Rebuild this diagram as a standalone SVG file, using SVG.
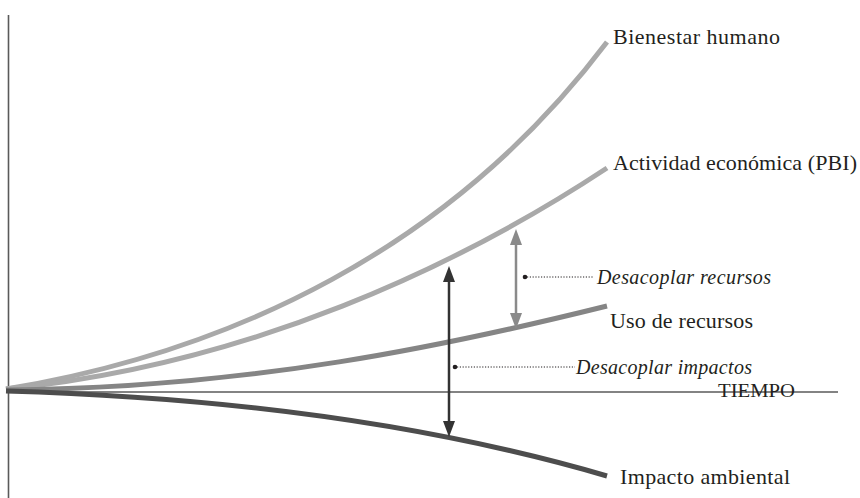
<svg xmlns="http://www.w3.org/2000/svg" width="860" height="498" viewBox="0 0 860 498">
<style>
.lbl{font-family:"Liberation Serif","Times New Roman",serif;font-size:22px;fill:#231f20}
.it{font-family:"Liberation Serif","Times New Roman",serif;font-size:20px;font-style:italic;fill:#231f20}
.ax{stroke:#5a5a5a;stroke-width:1.6;fill:none}
.curve{fill:none;stroke-width:5;stroke-linecap:butt}
.lead{stroke:#231f20;stroke-width:1;stroke-dasharray:1.2 1.6;fill:none}
</style>
<defs>
<marker id="ag" viewBox="0 0 16 12" refX="4" refY="6" markerWidth="16" markerHeight="12" markerUnits="userSpaceOnUse" orient="auto-start-reverse">
<path d="M0,0 L16,6 L0,12 Z" fill="#8a8a8a"/>
</marker>
<marker id="ad" viewBox="0 0 16 12" refX="4" refY="6" markerWidth="16" markerHeight="12" markerUnits="userSpaceOnUse" orient="auto-start-reverse">
<path d="M0,0 L16,6 L0,12 Z" fill="#333"/>
</marker>
</defs>
<g id="axes">
<line class="ax" x1="8.5" y1="15" x2="8.5" y2="498"/>
<line class="ax" x1="8" y1="392" x2="838" y2="392"/>
<text x="718" y="397" font-family="'Liberation Serif','Times New Roman',serif" font-size="19" fill="#231f20" textLength="77" lengthAdjust="spacingAndGlyphs">TIEMPO</text>
</g>
<g id="bienestar">
<path class="curve" stroke="#a9a9a9" d="M6,389 C230,352 450,250 607,42"/>
<text class="lbl" x="613" y="44" textLength="167" lengthAdjust="spacing">Bienestar humano</text>
</g>
<g id="actividad">
<path class="curve" stroke="#a9a9a9" d="M6,389 C250,365 460,265 607,168"/>
<text class="lbl" x="613" y="170" textLength="244" lengthAdjust="spacing">Actividad económica (PBI)</text>
</g>
<g id="uso">
<path class="curve" stroke="#858585" d="M6,390 C250,388 450,345 607,306"/>
<text class="lbl" x="610" y="328" textLength="143" lengthAdjust="spacing">Uso de recursos</text>
</g>
<g id="impacto">
<path class="curve" stroke="#4d4d4d" d="M6,391 C250,398 450,430 607,476"/>
<text class="lbl" x="620" y="484" textLength="170" lengthAdjust="spacing">Impacto ambiental</text>
</g>
<g id="connectors">
<line x1="516" y1="241" x2="516" y2="317" stroke="#8a8a8a" stroke-width="2.5" marker-start="url(#ag)" marker-end="url(#ag)"/>
<line x1="449" y1="278" x2="449" y2="425" stroke="#333" stroke-width="2.5" marker-start="url(#ad)" marker-end="url(#ad)"/>
</g>
<g id="desacoplar-recursos">
<circle cx="525" cy="277" r="2.3" fill="#231f20"/>
<line class="lead" x1="527" y1="277" x2="593" y2="277"/>
<text class="it" x="597" y="284" textLength="174" lengthAdjust="spacing">Desacoplar recursos</text>
</g>
<g id="desacoplar-impactos">
<circle cx="455" cy="367" r="2.3" fill="#231f20"/>
<line class="lead" x1="457" y1="367" x2="575" y2="367"/>
<text class="it" x="576" y="374" textLength="176" lengthAdjust="spacing">Desacoplar impactos</text>
</g>
</svg>
